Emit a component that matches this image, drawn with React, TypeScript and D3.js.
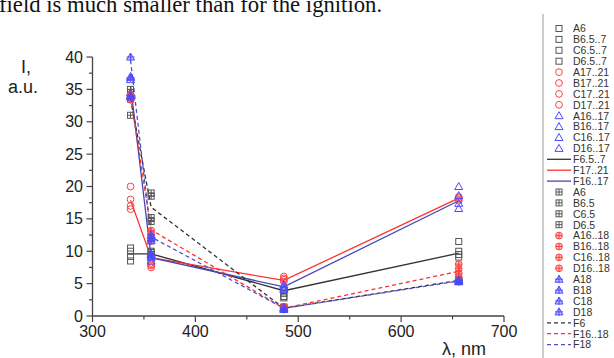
import React, { useEffect, useRef } from 'react'
import * as d3 from 'd3'

// wavelengths, nm
const wavelengths = [337, 357, 486, 656]

// open squares, 6.5..7
const A65 = [10.5, 10, 3.5, 11.5]
const B65 = [8.5, 9.5, 3, 10]
const C65 = [10, 9.2, 2.8, 9.5]
const D65 = [9.2, 9.8, 4, 9.1]
const F65 = [9.6, 9.6, 3.9, 9.7]

// open circles, 17..21
const A17 = [20, 8, 6.1, 18.2]
const B17 = [18, 7.5, 5.6, 18]
const C17 = [17, 8.2, 5.8, 17.8]
const D17 = [16.5, 7.8, 5.3, 18.4]
const F17 = [17.9, 9, 5.5, 18.2]

// open triangles, 16..17
const A16 = [37, 9.5, 4.6, 20]
const B16 = [34, 8.5, 4.1, 18.6]
const C16 = [36.5, 9, 4.8, 17.4]
const D16 = [34.5, 9.3, 4.3, 16.6]
const F16 = [35.5, 9, 4.5, 17.8]

// crossed squares, 6.5
const A6 = [35, 19, 1.3, 5.6]
const B6 = [34.5, 18.5, 1.2, 5.5]
const C6 = [33.5, 15.2, 1.4, 5.4]
const D6 = [31, 14.6, 1.1, 5.3]
const F6 = [33.5, 16.8, 1.2, 5.5]

// crossed circles, 16..18
const A1618 = [34, 13.2, 1.3, 8]
const B1618 = [33.8, 12.6, 1.2, 7.3]
const C1618 = [34.2, 11.6, 1.4, 6.6]
const D1618 = [33.4, 12, 1.1, 6]
const F1618 = [33.8, 13.3, 1.2, 6.9]

// crossed triangles, 18
const A18 = [40, 12.5, 1.2, 5.5]
const B18 = [36.8, 12, 1.1, 5.4]
const C18 = [34, 11.6, 1.3, 5.3]
const D18 = [33.8, 9.6, 1, 5.6]
const F18l = [39.5, 12.2, 1.2, 5.4]

const yTicks = [0, 5, 10, 15, 20, 25, 30, 35, 40]
const xTicks = [300, 400, 500, 600, 700]

const GREY = '#555'
const RED = '#ff4040'
const BLUE = '#4b4bff'

type Entry = { name: string; values?: number[]; marker?: string; color: string; dash?: boolean; line?: boolean }

const entries: Entry[] = [
  { name: 'A6', values: A65, marker: 'square', color: GREY },
  { name: 'B6.5..7', values: B65, marker: 'square', color: GREY },
  { name: 'C6.5..7', values: C65, marker: 'square', color: GREY },
  { name: 'D6.5..7', values: D65, marker: 'square', color: GREY },
  { name: 'A17..21', values: A17, marker: 'circle', color: RED },
  { name: 'B17..21', values: B17, marker: 'circle', color: RED },
  { name: 'C17..21', values: C17, marker: 'circle', color: RED },
  { name: 'D17..21', values: D17, marker: 'circle', color: RED },
  { name: 'A16..17', values: A16, marker: 'triangle', color: BLUE },
  { name: 'B16..17', values: B16, marker: 'triangle', color: BLUE },
  { name: 'C16..17', values: C16, marker: 'triangle', color: BLUE },
  { name: 'D16..17', values: D16, marker: 'triangle', color: BLUE },
  { name: 'F6.5..7', values: F65, line: true, color: '#333' },
  { name: 'F17..21', values: F17, line: true, color: '#ff3030' },
  { name: 'F16..17', values: F16, line: true, color: '#4646b8' },
  { name: 'A6', values: A6, marker: 'squarePlus', color: GREY },
  { name: 'B6.5', values: B6, marker: 'squarePlus', color: GREY },
  { name: 'C6.5', values: C6, marker: 'squarePlus', color: GREY },
  { name: 'D6.5', values: D6, marker: 'squarePlus', color: GREY },
  { name: 'A16..18', values: A1618, marker: 'circlePlus', color: RED },
  { name: 'B16..18', values: B1618, marker: 'circlePlus', color: RED },
  { name: 'C16..18', values: C1618, marker: 'circlePlus', color: RED },
  { name: 'D16..18', values: D1618, marker: 'circlePlus', color: RED },
  { name: 'A18', values: A18, marker: 'trianglePlus', color: BLUE },
  { name: 'B18', values: B18, marker: 'trianglePlus', color: BLUE },
  { name: 'C18', values: C18, marker: 'trianglePlus', color: BLUE },
  { name: 'D18', values: D18, marker: 'trianglePlus', color: BLUE },
  { name: 'F6', values: F6, line: true, dash: true, color: '#333' },
  { name: 'F16..18', values: F1618, line: true, dash: true, color: '#ff3030' },
  { name: 'F18', values: F18l, line: true, dash: true, color: '#5050cc' },
]

function drawMarker(g: any, kind: string, x: number, y: number, color: string) {
  const m = g.append('g').attr('transform', `translate(${x},${y})`)
    .attr('fill', 'none').attr('stroke', color).attr('stroke-width', 1)
  if (kind === 'square' || kind === 'squarePlus') {
    m.append('rect').attr('x', -3).attr('y', -3).attr('width', 6).attr('height', 6)
  }
  if (kind === 'circle' || kind === 'circlePlus') {
    m.append('circle').attr('r', 3.4)
  }
  if (kind === 'triangle' || kind === 'trianglePlus') {
    m.append('path').attr('d', 'M0,-4L4,3L-4,3Z')
  }
  if (kind.endsWith('Plus')) {
    const s = kind === 'trianglePlus' ? 4 : 3
    m.append('path').attr('d', `M0,${-s}V${s}M${-s},0H${s}`)
    if (kind !== 'squarePlus') m.attr('fill', color).attr('fill-opacity', 0.35)
  }
}

function App() {
  const svgRef = useRef<SVGSVGElement>(null)

  useEffect(() => {
    const svg = d3.select(svgRef.current)
    svg.selectAll('*').remove()

    const x = d3.scaleLinear().domain([300, 700]).range([92.5, 504])
    const y = d3.scaleLinear().domain([0, 40]).range([316, 57])

    // text above the chart (cut page)
    svg.append('text').attr('x', -1).attr('y', 12)
      .style('font-family', '"Liberation Serif", serif').style('font-size', '22.7px')
      .attr('fill', '#111')
      .text('field is much smaller than for the ignition.')

    const axisCol = '#444'
    // y axis
    svg.append('line').attr('x1', x(300)).attr('x2', x(300)).attr('y1', y(0)).attr('y2', y(40))
      .attr('stroke', axisCol).attr('stroke-width', 1.3)
    d3.range(0, 40.1, 2.5).forEach(v => {
      const major = v % 5 === 0
      svg.append('line').attr('x1', x(300)).attr('x2', x(300) - (major ? 6 : 3.5))
        .attr('y1', y(v)).attr('y2', y(v)).attr('stroke', axisCol).attr('stroke-width', 1.2)
    })
    svg.selectAll('.ytick').data(yTicks).join('text')
      .attr('x', 83).attr('y', d => y(d) + 5.5).attr('text-anchor', 'end')
      .style('font-family', '"Liberation Sans", Arial, sans-serif').style('font-size', '16px')
      .attr('fill', '#222').text(d => d)

    // x axis
    svg.append('line').attr('x1', x(300)).attr('x2', x(700)).attr('y1', y(0)).attr('y2', y(0))
      .attr('stroke', axisCol).attr('stroke-width', 1.3)
    d3.range(300, 701, 50).forEach(v => {
      const major = v % 100 === 0
      svg.append('line').attr('x1', x(v)).attr('x2', x(v))
        .attr('y1', y(0)).attr('y2', y(0) + (major ? 6 : 3.5)).attr('stroke', axisCol).attr('stroke-width', 1.2)
    })
    svg.selectAll('.xtick').data(xTicks).join('text')
      .attr('x', d => x(d)).attr('y', 337).attr('text-anchor', 'middle')
      .style('font-family', '"Liberation Sans", Arial, sans-serif').style('font-size', '16px')
      .attr('fill', '#222').text(d => d)

    const titleFont = '"Liberation Sans", Arial, sans-serif'
    svg.append('text').attr('x', 21).attr('y', 73).style('font-family', titleFont).style('font-size', '18px')
      .attr('fill', '#222').text('I,')
    svg.append('text').attr('x', 8).attr('y', 93).style('font-family', titleFont).style('font-size', '18px')
      .attr('fill', '#222').text('a.u.')
    svg.append('text').attr('x', 464).attr('y', 355).attr('text-anchor', 'middle')
      .style('font-family', titleFont).style('font-size', '18px').attr('fill', '#222').text('λ, nm')

    // lines
    const line = d3.line<number>().x((_, i) => x(wavelengths[i])).y(d => y(d))
    entries.filter(e => e.line).forEach(e => {
      svg.append('path').attr('d', line(e.values!)).attr('fill', 'none')
        .attr('stroke', e.color).attr('stroke-width', 1.3)
        .attr('stroke-dasharray', e.dash ? '4,3' : null)
    })

    // markers
    const pts = svg.append('g')
    entries.filter(e => e.marker).forEach(e => {
      e.values!.forEach((v, i) => drawMarker(pts, e.marker!, x(wavelengths[i]), y(v), e.color))
    })

    // legend
    const lg = svg.append('g')
    lg.append('line').attr('x1', 543).attr('x2', 543).attr('y1', 14).attr('y2', 358)
      .attr('stroke', '#999').attr('stroke-width', 1)
    entries.forEach((e, i) => {
      const ly = 28.5 + i * 10.9
      if (e.marker) drawMarker(lg, e.marker, 559, ly, e.color)
      else lg.append('line').attr('x1', 547).attr('x2', 571).attr('y1', ly).attr('y2', ly)
        .attr('stroke', e.color).attr('stroke-width', 1.3).attr('stroke-dasharray', e.dash ? '4,3' : null)
      lg.append('text').attr('x', 573).attr('y', ly + 3.8)
        .style('font-family', '"Liberation Sans", Arial, sans-serif').style('font-size', '10.5px')
        .attr('fill', '#333').text(e.name)
    })
  }, [])

  return (
    <svg ref={svgRef} width={614} height={358}
      style={{ position: 'absolute', left: 0, top: 0, background: '#fff' }} />
  )
}

export default App
